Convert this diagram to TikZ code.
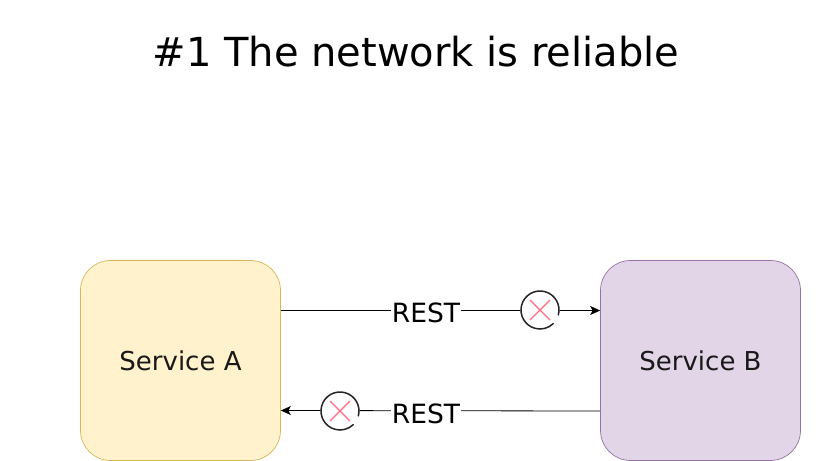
\documentclass[tikz,border=0pt]{standalone}
\usepackage{fontspec}
\setmainfont{DejaVu Sans}
\usetikzlibrary{arrows.meta}
\definecolor{yfill}{HTML}{FFF2CC}
\definecolor{ydraw}{HTML}{D6B656}
\definecolor{pfill}{HTML}{E1D5E7}
\definecolor{pdraw}{HTML}{9673A6}
\definecolor{xred}{HTML}{FF6B81}
\tikzset{
  x=1pt,y=-1pt,
  svc/.style={rounded corners=30pt,minimum width=200pt,minimum height=200pt,inner sep=0pt,line width=0.7pt,font=\fontsize{26}{30}\selectfont,text=black!90},
  conn/.style={line width=0.8pt,-{Stealth[length=10pt,width=9pt,inset=2.5pt]}},
  lab/.style={fill=white,inner sep=0.5pt,font=\fontsize{26.5}{30}\selectfont},
  stopring/.style={line width=1.5pt,black!85,line cap=round},
  stopx/.style={line width=1.3pt,xred},
  stopbg/.style={circle,fill=white,minimum size=39pt,inner sep=0pt}
}
\begin{document}
\begin{tikzpicture}
\useasboundingbox (0,0) rectangle (831,461);
\node[font=\fontsize{40}{46}\selectfont] (title) at (416,52) {\#1 The network is reliable};
\node[svc,draw=ydraw,fill=yfill] (a) at (180.5,360.5) {Service A};
\node[svc,draw=pdraw,fill=pfill] (b) at (700.5,360.5) {Service B};
\coordinate (aTop) at ([yshift=50pt]a.east);
\coordinate (bTop) at ([yshift=50pt]b.west);
\coordinate (aBot) at ([yshift=-50pt]a.east);
\coordinate (bBot) at ([yshift=-50.5pt]b.west);
\draw[conn] (aTop) -- (bTop);
\draw[conn] (bBot) -- (aBot);
\node[lab] (rest1) at (426,312.5) {REST};
\node[lab] (rest2) at (426,413.5) {REST};
\node[stopbg] (s1) at (540,310) {};
\node[stopbg] (s2) at (340,411) {};
\foreach \s in {s1,s2}{
  \draw[stopring] ([shift={(-15:19pt)}]\s.center) arc[start angle=-15,end angle=314,radius=19pt];
  \draw[stopx] ([shift={(-10pt,10pt)}]\s.center) -- ([shift={(10pt,-10pt)}]\s.center);
  \draw[stopx] ([shift={(-10pt,-10pt)}]\s.center) -- ([shift={(10pt,10pt)}]\s.center);
}
\end{tikzpicture}
\end{document}
